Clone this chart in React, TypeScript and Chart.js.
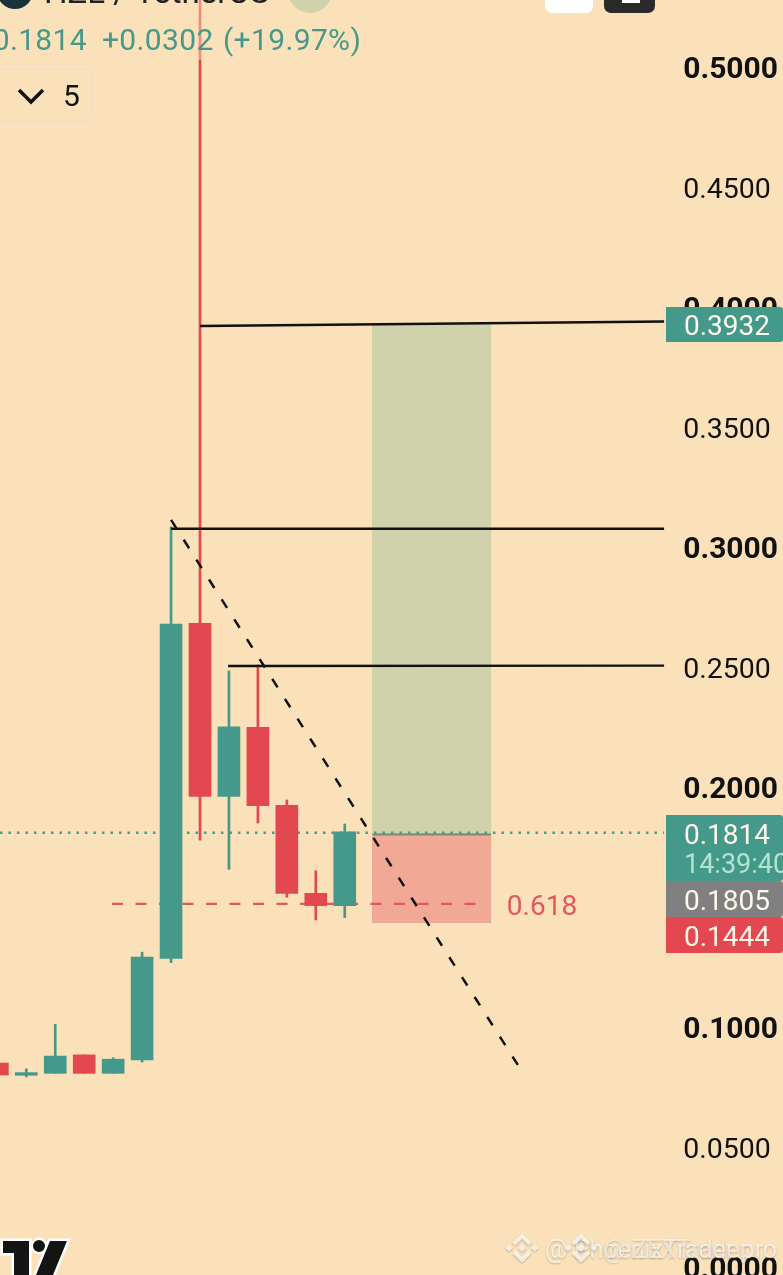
import React, { useEffect, useRef } from "react";
import { Chart, registerables } from "chart.js";

Chart.register(...registerables);

const candleIndex = [0, 1, 2, 3, 4, 5, 6, 7, 8, 9, 10, 11, 12];
const opens = [0.0854, 0.0803, 0.0811, 0.0888, 0.0811, 0.0867, 0.129, 0.2686, 0.1965, 0.2253, 0.1928, 0.1561, 0.151];
const closes = [0.0804, 0.0814, 0.0883, 0.0811, 0.087, 0.1295, 0.2683, 0.1965, 0.2255, 0.1926, 0.1561, 0.151, 0.1817];
const highs = [0.0854, 0.083, 0.1015, 0.0888, 0.0876, 0.1316, 0.3088, 0.56, 0.2488, 0.2513, 0.195, 0.1655, 0.185];
const lows = [0.0804, 0.0796, 0.0811, 0.0811, 0.0811, 0.0858, 0.1272, 0.1783, 0.1661, 0.1854, 0.1545, 0.145, 0.146];

const priceTicks = [0.5, 0.45, 0.4, 0.35, 0.3, 0.25, 0.2, 0.15, 0.1, 0.05, 0];
const boldTicks = [0.5, 0.4, 0.3, 0.2, 0.1, 0];

const line1X = [7.0, 23.03];
const line1Y = [0.3925, 0.3944];
const line2X = [6.0, 23.03];
const line2Y = [0.308, 0.308];
const line3X = [7.97, 23.03];
const line3Y = [0.2508, 0.251];
const trendX = [6.0, 17.98];
const trendY = [0.3117, 0.0846];
const fibX = [3.96, 16.6];
const fibY = [0.1517, 0.1517];
const lastX = [0.09, 23.03];
const lastY = [0.1814, 0.1814];
const entryX = [12.96, 17.05];
const entryY = [0.1806, 0.1806];
const profitZone = [0.1814, 0.3932];
const lossZone = [0.1439, 0.1814];
const zoneX = 15.0;

const GREEN = "#44998a";
const RED = "#e3474f";
const BG = "#fbe1b9";
const FONT = "Roboto";

const xy = (xs: number[], ys: number[]) => xs.map((x, i) => ({ x, y: ys[i] }));

const overlay = {
  id: "overlay",
  afterDatasetsDraw(chart: any) {
    const { ctx, scales } = chart;
    const y = scales.y;
    const x = scales.x;
    ctx.save();
    ctx.textBaseline = "alphabetic";
    ctx.textAlign = "left";

    // Fibonacci label
    ctx.font = `28px ${FONT}`;
    ctx.fillStyle = "#e2585c";
    ctx.fillText("0.618", x.getPixelForValue(17.6), y.getPixelForValue(0.1517) + 11);

    // header veil over the long wick
    ctx.fillStyle = "rgba(251,225,185,0.45)";
    ctx.fillRect(190, 0, 20, 60);

    ctx.fillStyle = "#17323a";
    ctx.beginPath();
    ctx.arc(15, -9, 18, 0, Math.PI * 2);
    ctx.fill();
    ctx.fillStyle = "#222";
    ctx.font = `33px ${FONT}`;
    ctx.fillText("HZL / TetherUS", 44, 3);
    ctx.fillStyle = "#d0d2ac";
    ctx.beginPath();
    ctx.arc(310, -9, 22, 0, Math.PI * 2);
    ctx.fill();
    ctx.fillStyle = GREEN;
    ctx.font = `30px ${FONT}`;
    ctx.letterSpacing = "0.35px";
    ctx.textAlign = "right";
    ctx.fillText("0.1814", 87, 50);
    ctx.textAlign = "left";
    ctx.fillText("+0.0302", 102, 50);
    ctx.fillText("(+19.97%)", 223, 50);
    ctx.letterSpacing = "0px";

    // collapse button
    ctx.strokeStyle = "#ece0cc";
    ctx.lineWidth = 2;
    ctx.beginPath();
    ctx.roundRect(-8, 69, 99, 53, 6);
    ctx.stroke();
    ctx.strokeStyle = "#111";
    ctx.lineWidth = 3.5;
    ctx.beginPath();
    ctx.moveTo(19, 90);
    ctx.lineTo(31, 102);
    ctx.lineTo(43, 90);
    ctx.stroke();
    ctx.fillStyle = "#111";
    ctx.font = `30px ${FONT}`;
    ctx.fillText("5", 63, 106);

    // top buttons
    ctx.fillStyle = "#ffffff";
    ctx.beginPath();
    ctx.roundRect(545, -20, 48, 33, 7);
    ctx.fill();
    ctx.fillStyle = "#2a2a2a";
    ctx.beginPath();
    ctx.roundRect(604, -20, 51, 33, 7);
    ctx.fill();
    ctx.fillStyle = "#ffffff";
    ctx.fillRect(622, 0, 18, 3);

    // price tags
    const tag = (top: number, h: number, color: string) => {
      ctx.fillStyle = color;
      ctx.beginPath();
      ctx.roundRect(666, top, 117, h, [0, 3, 3, 0]);
      ctx.fill();
    };
    const tagText = (t: string, yy: number, color = "#fff8ea", size = 28) => {
      ctx.fillStyle = color;
      ctx.font = `${size}px ${FONT}`;
      ctx.fillText(t, 684, yy);
    };
    tag(307, 35, GREEN);
    tagText("0.3932", 335);
    tag(815, 66, GREEN);
    tagText("0.1814", 844);
    tagText("14:39:40", 873, "#b4e4d0", 27);
    tag(881, 36, "#808080");
    tagText("0.1805", 910);
    tag(917, 36, RED);
    tagText("0.1444", 946);

    // TradingView logo
    ctx.lineJoin = "miter";
    const logo = () => {
      ctx.beginPath();
      ctx.moveTo(3, 1241);
      ctx.lineTo(29, 1241);
      ctx.lineTo(29, 1275);
      ctx.lineTo(14, 1275);
      ctx.lineTo(14, 1253);
      ctx.lineTo(3, 1253);
      ctx.closePath();
      ctx.moveTo(50, 1241);
      ctx.lineTo(67, 1241);
      ctx.lineTo(53, 1275);
      ctx.lineTo(36, 1275);
      ctx.closePath();
      ctx.moveTo(45, 1246);
      ctx.arc(39, 1246, 6, 0, Math.PI * 2);
    };
    ctx.strokeStyle = "#ffffff";
    ctx.lineWidth = 5;
    logo();
    ctx.stroke();
    ctx.fillStyle = "#141414";
    logo();
    ctx.fill();

    // watermark
    ctx.shadowColor = "rgba(90,80,60,0.5)";
    ctx.shadowBlur = 2;
    ctx.shadowOffsetY = 1;
    ctx.fillStyle = "rgba(255,255,255,0.72)";
    ctx.font = `25px ${FONT}`;
    ctx.fillText("@ PhoenixTrader pro", 545, 1258);
    ctx.fillStyle = "rgba(255,255,255,0.55)";
    ctx.fillText("@ ZEXTrader", 603, 1258);
    const square = (cx: number, cy: number, s: number) => {
      ctx.beginPath();
      ctx.moveTo(cx, cy - s);
      ctx.lineTo(cx + s, cy);
      ctx.lineTo(cx, cy + s);
      ctx.lineTo(cx - s, cy);
      ctx.closePath();
      ctx.fill();
    };
    const chevron = (cx: number, cy: number, dir: number) => {
      ctx.lineWidth = 4;
      ctx.strokeStyle = "rgba(255,255,255,0.78)";
      ctx.beginPath();
      ctx.moveTo(cx - 8, cy + dir * 8);
      ctx.lineTo(cx, cy);
      ctx.lineTo(cx + 8, cy + dir * 8);
      ctx.stroke();
    };
    const badge = (cx: number, cy: number) => {
      ctx.fillStyle = "rgba(255,255,255,0.78)";
      square(cx, cy, 4);
      square(cx - 13, cy, 3.5);
      square(cx + 13, cy, 3.5);
      chevron(cx, cy - 12, 1);
      chevron(cx, cy + 12, -1);
    };
    badge(522, 1248);
    badge(581, 1248);
    ctx.restore();
  },
};

export default function App() {
  const ref = useRef<HTMLCanvasElement>(null);
  useEffect(() => {
    document.body.style.margin = "0";
    document.body.style.background = BG;
    const candleColors = opens.map((o, i) => (closes[i] >= o ? GREEN : RED));
    const bgPlugin = {
      id: "bg",
      beforeDraw(chart: any) {
        chart.ctx.save();
        chart.ctx.fillStyle = BG;
        chart.ctx.fillRect(0, 0, chart.width, chart.height);
        chart.ctx.restore();
      },
    };
    const blackLine = (xs: number[], ys: number[]) => ({
      type: "line",
      data: xy(xs, ys),
      borderColor: "#111",
      borderWidth: 2.4,
      pointRadius: 0,
      order: 1,
    });
    const chart = new Chart(ref.current!, {
      type: "bar",
      data: {
        datasets: [
          blackLine(line1X, line1Y),
          blackLine(line2X, line2Y),
          blackLine(line3X, line3Y),
          {
            type: "line",
            data: xy(trendX, trendY),
            borderColor: "#111",
            borderWidth: 2.5,
            borderDash: [10, 13.56],
            pointRadius: 0,
            order: 1,
          },
          {
            type: "bar",
            data: candleIndex.map((x, i) => ({ x, y: [opens[i], closes[i]] })),
            backgroundColor: candleColors,
            barThickness: 22,
            grouped: false,
            order: 2,
          },
          {
            type: "bar",
            data: candleIndex.map((x, i) => ({ x, y: [lows[i], highs[i]] })),
            backgroundColor: candleColors,
            barThickness: 2,
            grouped: false,
            order: 3,
          },
          {
            type: "line",
            data: xy(fibX, fibY),
            borderColor: "#e2585c",
            borderWidth: 2.4,
            borderDash: [11, 12.5],
            pointRadius: 0,
            order: 4,
          },
          {
            type: "line",
            data: xy(lastX, lastY),
            borderColor: "#3fa08f",
            borderWidth: 2.5,
            borderDash: [2.5, 6],
            pointRadius: 0,
            order: 5,
          },
          {
            type: "line",
            data: xy(entryX, entryY),
            borderColor: "#7d8a78",
            borderWidth: 2,
            pointRadius: 0,
            order: 5.5,
          },
          {
            type: "bar",
            data: [{ x: zoneX, y: profitZone }],
            backgroundColor: "#d0d2ac",
            barThickness: 118.5,
            grouped: false,
            order: 6,
          },
          {
            type: "bar",
            data: [{ x: zoneX, y: lossZone }],
            backgroundColor: "#f1a996",
            barThickness: 118.5,
            grouped: false,
            order: 6,
          },
        ] as any,
      },
      options: {
        animation: false,
        responsive: false,
        layout: { padding: 0 },
        plugins: { legend: { display: false }, tooltip: { enabled: false } },
        scales: {
          x: {
            type: "linear",
            offset: false,
            min: 0.0915,
            max: 27.138,
            display: false,
            grid: { display: false },
          },
          y: {
            type: "linear",
            position: "right",
            min: -0.00292,
            max: 0.52833,
            grid: { display: false },
            border: { display: false },
            afterBuildTicks(axis: any) {
              axis.ticks = priceTicks.map((value) => ({ value }));
            },
            afterFit(axis: any) {
              axis.width = 0;
              axis.paddingTop = 0;
              axis.paddingBottom = 0;
            },
            ticks: {
              mirror: true,
              crossAlign: "far",
              padding: -5,
              labelOffset: 3,
              color: "#111",
              autoSkip: false,
              callback: (v: any) => Number(v).toFixed(4),
              font: (ctx: any) => {
                const bold = boldTicks.includes(ctx.tick?.value);
                return { family: FONT, size: bold ? 30 : 28.5, weight: bold ? "bold" : "normal" };
              },
            },
          },
        },
      },
      plugins: [bgPlugin, overlay],
    } as any);
    return () => chart.destroy();
  }, []);
  return <canvas ref={ref} width={783} height={1275} style={{ display: "block" }} />;
}
